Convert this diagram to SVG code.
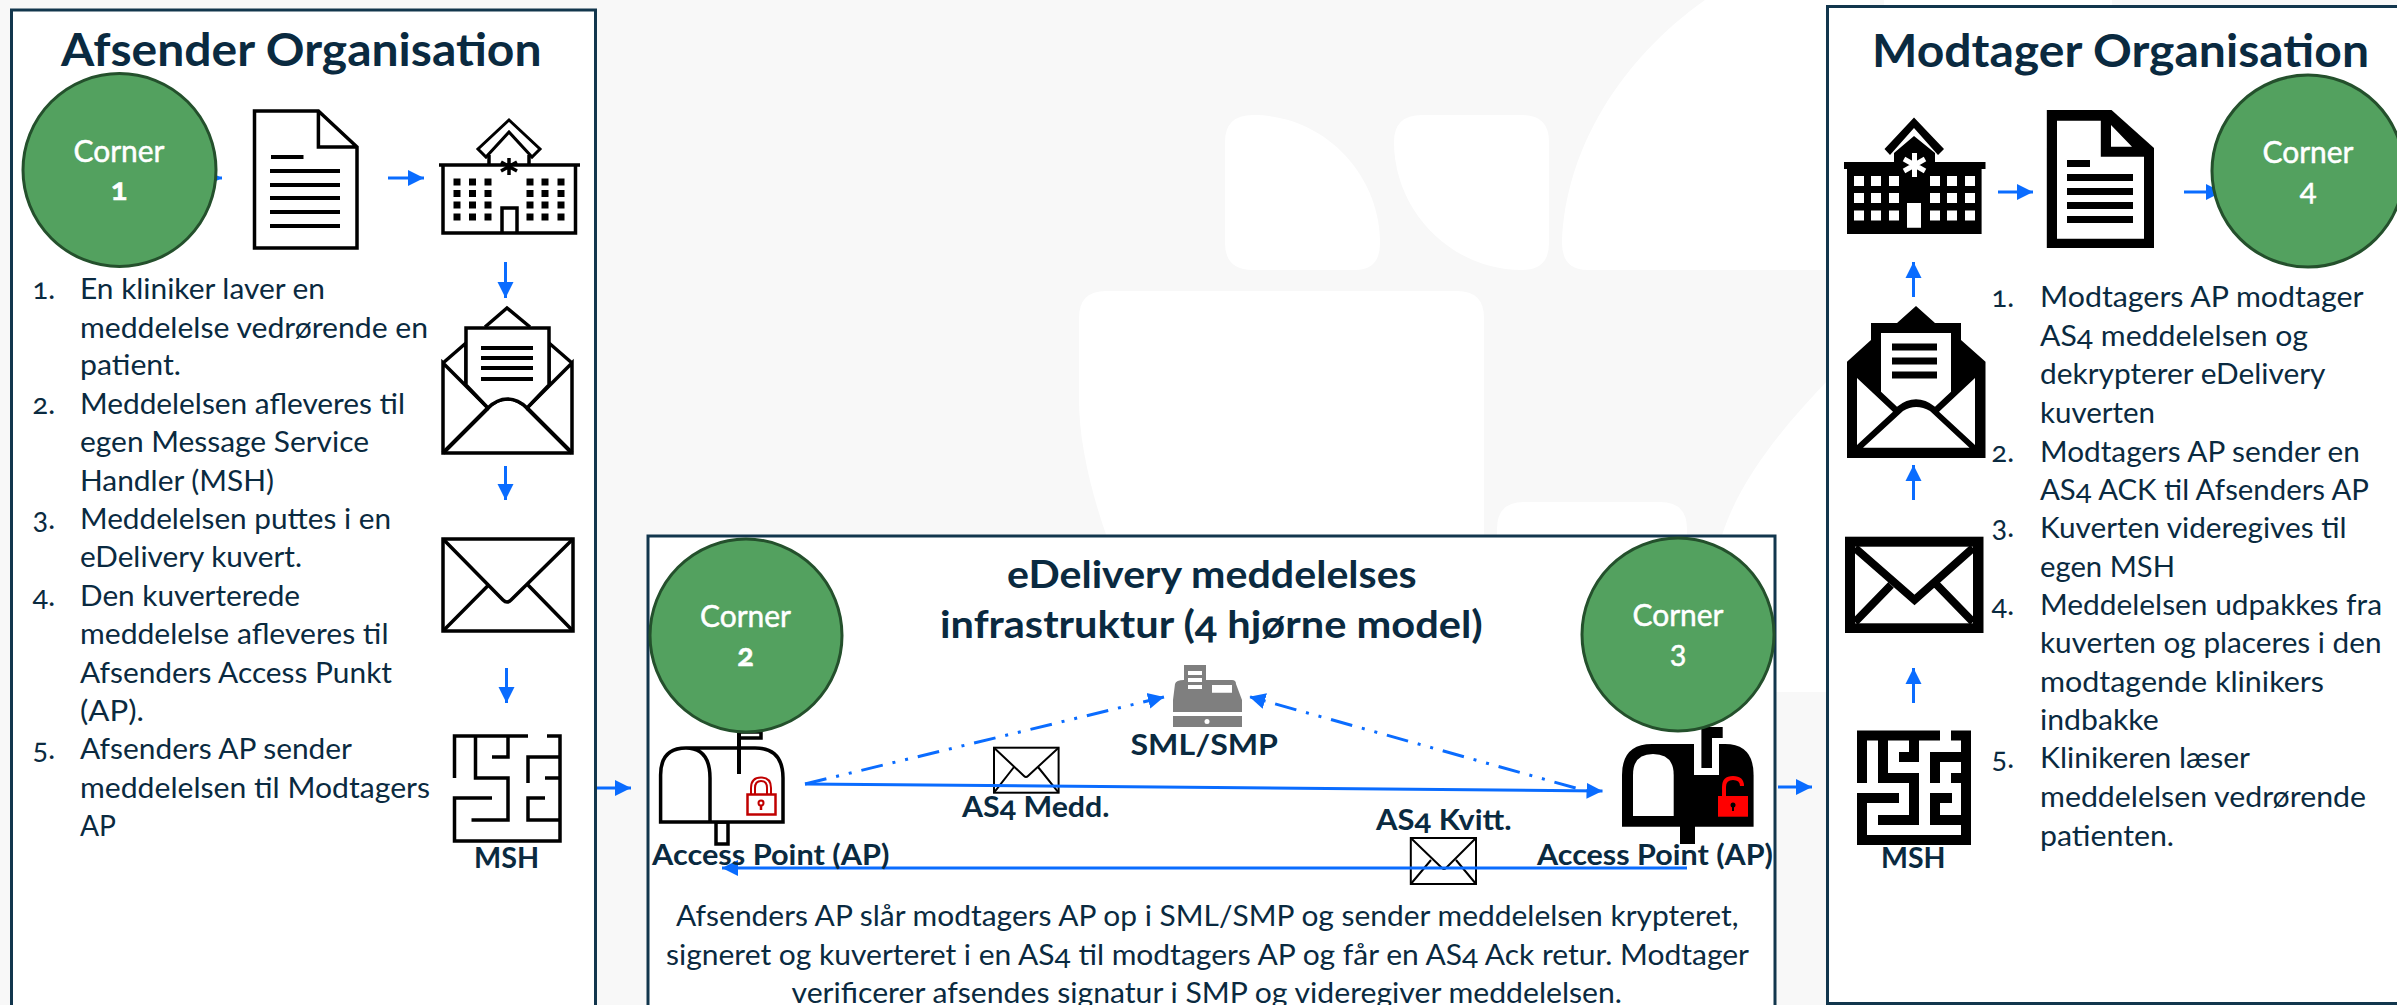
<svg xmlns="http://www.w3.org/2000/svg" width="2397" height="1005" viewBox="0 0 2397 1005">
<style>
text{font-family:"Lato","Open Sans","Liberation Sans",sans-serif;fill:#0a2a40;font-variant-numeric:oldstyle-nums;font-feature-settings:"onum"}
.b{font-size:29px}
.l{font-size:29px;font-weight:700}
.t{font-size:46px;font-weight:700}
.h{font-size:38px;font-weight:700}
.c{font-size:31px;fill:#fff;stroke:#fff;stroke-width:.5}
.n{font-size:29px}
.panel{fill:#fff;stroke:#12364d;stroke-width:3}
.corner{fill:#53a15f;stroke:#24502c;stroke-width:3}
.bg{fill:#fff}
.ln{fill:none;stroke:#000;stroke-width:4}
.th{fill:none;stroke:#000;stroke-width:10}
.ar{fill:none;stroke:#0a6cff;stroke-width:3;marker-end:url(#ah)}
.dd{stroke-dasharray:22 10 3 10 3 10}
</style>
<defs>
<marker id="ah" markerUnits="userSpaceOnUse" markerWidth="18" markerHeight="18" refX="16" refY="9" orient="auto"><path d="M0,1 L16,9 L0,17 Z" fill="#0a6cff"/></marker>
</defs>
<rect width="2397" height="1005" fill="#f8f8f8"/>
<g id="background">
<path class="bg" d="M1253,115 C1325,115 1380,175 1380,243 Q1380,270 1355,270 L1253,270 Q1225,270 1225,243 L1225,142 Q1225,115 1253,115 Z"/>
<path class="bg" d="M1422,115 L1522,115 Q1549,115 1549,142 L1549,243 Q1549,270 1522,270 C1450,270 1394,210 1394,142 Q1394,115 1422,115 Z"/>
<path class="bg" d="M1705,0 C1620,60 1565,150 1562,243 Q1562,270 1588,270 L1830,270 L1830,8 L1870,8 L1870,0 Z"/>
<rect class="bg" x="1884" y="0" width="228" height="8"/>
<path class="bg" d="M1106,291 L1457,291 Q1484,291 1484,318 L1484,540 L1108,540 C1090,490 1079,440 1079,400 L1079,318 Q1079,291 1106,291 Z"/>
<path class="bg" d="M1524,502 L1660,502 Q1687,502 1687,529 L1687,540 L1497,540 L1497,529 Q1497,502 1524,502 Z"/>
<path class="bg" d="M1830,378 C1780,430 1740,480 1722,535 L1700,600 L1700,692 L1840,692 Z"/>
</g>
<g id="panels">
<rect class="panel" x="11.5" y="10" width="584" height="1010"/>
<rect class="panel" x="648" y="536" width="1127" height="490"/>
<rect class="panel" x="1827.5" y="6.5" width="580" height="997"/>
</g>
<g id="connectors">
<path class="ar" d="M190,178 L222,178"/>
<path class="ar" d="M388,178 L424,178"/>
<path class="ar" d="M505.500,262 L505.500,298"/>
<path class="ar" d="M505.500,466 L505.500,500"/>
<path class="ar" d="M506.500,668 L506.500,703"/>
<path class="ar" d="M597,788 L631,788"/>
<path class="ar" d="M1778,787 L1812,787"/>
<path class="ar" d="M1998,192 L2033,192"/>
<path class="ar" d="M2184,192 L2222,192"/>
<path class="ar" d="M1913.500,297 L1913.500,262"/>
<path class="ar" d="M1913.500,500 L1913.500,465"/>
<path class="ar" d="M1913.500,703 L1913.500,668"/>
</g>
<g id="corner1"><ellipse class="corner" cx="119.500" cy="170" rx="96.500" ry="96.500"/><text class="c" x="73.500" y="162" textLength="91" lengthAdjust="spacingAndGlyphs">Corner</text><text class="c" x="119" y="200" text-anchor="middle" font-weight="700">1</text></g>
<g id="doc1">
<path d="M254.500,111 H318.400 L357,147 V248 H254.500 Z M318.400,111 V147 H357" fill="#fff" stroke="#000" stroke-width="3.500"/>
<path d="M271,157 H303.500 M270,171 H340 M270,185 H340 M270,198 H340 M270,212 H340 M270,226 H340" class="ln"/>
</g>
<g id="hospital1">
<path d="M509,120 L540,149 L532,157 L509,132 L486,157 L478,149 Z" fill="#fff" stroke="#000" stroke-width="3"/>
<path d="M489,165 V155 M529,165 V155 M439,165 H580 M443,165 V233 H575.500 V165 M502,233 V208 H517 V233" fill="none" stroke="#000" stroke-width="3.500"/>
<path d="M453.500,178.500h7v7h-7zM469,178.500h7v7h-7zM484.500,178.500h7v7h-7zM526.500,178.500h7v7h-7zM541.500,178.500h7v7h-7zM557.500,178.500h7v7h-7zM453.500,190h7v7h-7zM469,190h7v7h-7zM484.500,190h7v7h-7zM526.500,190h7v7h-7zM541.500,190h7v7h-7zM557.500,190h7v7h-7zM453.500,201.500h7v7h-7zM469,201.500h7v7h-7zM484.500,201.500h7v7h-7zM526.500,201.500h7v7h-7zM541.500,201.500h7v7h-7zM557.500,201.500h7v7h-7zM453.500,213.500h7v7h-7zM469,213.500h7v7h-7zM484.500,213.500h7v7h-7zM526.500,213.500h7v7h-7zM541.500,213.500h7v7h-7zM557.500,213.500h7v7h-7z"/>
<path d="M509,158 V175 M501,162 L517,171 M517,162 L501,171" fill="none" stroke="#000" stroke-width="3.500"/>
</g>
<g id="envelope-open1">
<path d="M485,327 L507,308 L530,327" fill="#fff" stroke="#000" stroke-width="3.500"/>
<path d="M443,363 L466,343 V383 M572,363 L549,343 V383 M443,363 V453 H572 V363 L527,408 C515,396 500,396 488,408 Z" fill="#fff" stroke="#000" stroke-width="3.500"/>
<path d="M466,328 H549 V385 L527,408 C515,396 500,396 488,408 L466,385 Z" fill="#fff" stroke="#000" stroke-width="3.500"/>
<path d="M443,453 L488,408 M572,453 L527,408" class="ln"/>
<path d="M481,348 H533 M481,358 H533 M481,368 H533 M481,379 H533" class="ln"/>
</g>
<g id="envelope1">
<path d="M443,539 H573 V631 H443 Z" fill="#fff" stroke="#000" stroke-width="3.500"/>
<path d="M443,539 L503,600 Q507,604 511,600 L573,539 M443,631 L488.600,585 M573,631 L528,585" fill="none" stroke="#000" stroke-width="3.500"/>
</g>
<g id="msh1">
<path d="M454.500,778 V736 H528 M547,736 H560 V841 H454.500 V798 H492 M475.500,736 V778 H508 V820 H471.500 M508,736 V757 H492 M528,783 V757 H560 M545,778 H560 M545,798 H528 V820 H560" fill="none" stroke="#000" stroke-width="3.500"/>
<text class="l" x="474" y="868" textLength="65" lengthAdjust="spacingAndGlyphs">MSH</text>
</g>
<g id="afsender-text">
<text class="t" x="61" y="66" textLength="480.500" lengthAdjust="spacingAndGlyphs">Afsender Organisation</text>
<text class="n" x="32.500" y="299">1.</text><text class="n" x="32.500" y="414">2.</text><text class="n" x="32.500" y="529">3.</text><text class="n" x="32.500" y="606">4.</text><text class="n" x="32.500" y="759">5.</text>
<text class="b" x="80" y="299" textLength="245" lengthAdjust="spacingAndGlyphs">En kliniker laver en</text>
<text class="b" x="80" y="337.500" textLength="348" lengthAdjust="spacingAndGlyphs">meddelelse vedrørende en</text>
<text class="b" x="80" y="375" textLength="101" lengthAdjust="spacingAndGlyphs">patient.</text>
<text class="b" x="80" y="414" textLength="325" lengthAdjust="spacingAndGlyphs">Meddelelsen afleveres til</text>
<text class="b" x="80" y="452" textLength="289" lengthAdjust="spacingAndGlyphs">egen Message Service</text>
<text class="b" x="80" y="491" textLength="194" lengthAdjust="spacingAndGlyphs">Handler (MSH)</text>
<text class="b" x="80" y="529" textLength="311" lengthAdjust="spacingAndGlyphs">Meddelelsen puttes i en</text>
<text class="b" x="80" y="567" textLength="222" lengthAdjust="spacingAndGlyphs">eDelivery kuvert.</text>
<text class="b" x="80" y="606" textLength="220" lengthAdjust="spacingAndGlyphs">Den kuverterede</text>
<text class="b" x="80" y="644" textLength="308.500" lengthAdjust="spacingAndGlyphs">meddelelse afleveres til</text>
<text class="b" x="80" y="682.500" textLength="312" lengthAdjust="spacingAndGlyphs">Afsenders Access Punkt</text>
<text class="b" x="80" y="720.500" textLength="64" lengthAdjust="spacingAndGlyphs">(AP).</text>
<text class="b" x="80" y="759" textLength="272" lengthAdjust="spacingAndGlyphs">Afsenders AP sender</text>
<text class="b" x="80" y="797.500" textLength="350" lengthAdjust="spacingAndGlyphs">meddelelsen til Modtagers</text>
<text class="b" x="80" y="835.500" textLength="36" lengthAdjust="spacingAndGlyphs">AP</text>
</g>
<g id="mailbox-left">
<path d="M739,774 V732 H761 V738 H739" fill="#fff" stroke="#000" stroke-width="3.500"/>
<path d="M716,822 H728 V844 H716 Z" fill="#fff" stroke="#000" stroke-width="3.500"/>
<path d="M660.600,822 V775 Q660.600,748 686,748 H755 Q783,748 783,778 V822 Z M686,748 Q710,748 710,778 V822" fill="#fff" stroke="#000" stroke-width="3.500"/>
<path d="M739,732 V774" class="ln"/>
<rect x="747.500" y="794.500" width="28" height="20" fill="none" stroke="#c00000" stroke-width="2.500"/>
<path d="M751,794 V788 Q751,777.500 761,777.500 Q771,777.500 771,788 V794 M755,794 V788 Q755,781 761,781 Q767,781 767,788 V794" fill="none" stroke="#c00000" stroke-width="2"/>
<circle cx="761" cy="803" r="2.500" fill="none" stroke="#c00000" stroke-width="2"/><path d="M761,806 V810" stroke="#c00000" stroke-width="2.500"/>
</g>
<g id="mailbox-right">
<path d="M1622,826.700 V775 Q1622,744 1652,744 H1725 Q1753.600,744 1753.600,775 V826.700 Z" fill="#000"/>
<rect x="1680" y="826" width="15" height="18" fill="#000"/>
<path d="M1633,816 V775 Q1633,754 1653,754 Q1673.700,754 1673.700,775 V816 Z" fill="#fff"/>
<rect x="1694" y="740" width="25" height="35" fill="#fff"/>
<path d="M1701.400,768 V727 H1722.700 V738 H1712 V768 Z" fill="#000"/>
<rect x="1718" y="796" width="30" height="20.700" fill="#f00"/>
<path d="M1724,796 V787 Q1724,778 1733,778 Q1742,778 1742,786" fill="none" stroke="#f00" stroke-width="4"/>
<circle cx="1733" cy="805" r="2.500"/><path d="M1733,806 V811" stroke="#000" stroke-width="2"/>
</g>
<g id="corner2"><ellipse class="corner" cx="746" cy="635.500" rx="96" ry="96.500"/><text class="c" x="700" y="627" textLength="91" lengthAdjust="spacingAndGlyphs">Corner</text><text class="c" x="745.500" y="665.500" text-anchor="middle" font-weight="700">2</text></g>
<g id="corner3"><ellipse class="corner" cx="1678" cy="634.500" rx="96" ry="96.500"/><text class="c" x="1632.500" y="625.500" textLength="91" lengthAdjust="spacingAndGlyphs">Corner</text><text class="c" x="1678" y="663" text-anchor="middle">3</text></g>
<g id="sml-smp">
<path d="M1184,665 H1206 V680 H1232 Q1236,680 1236,684 L1242,700 V712 H1173 V700 L1175,684 Q1176,680 1184,680 Z" fill="#7f7f7f"/>
<path d="M1212,685 H1232 V692.700 H1212 Z M1188,671 H1202 V675 H1188 Z M1188,678 H1202 V682 H1188 Z M1188,685 H1202 V689 H1188 Z" fill="#fff"/>
<rect x="1173" y="716" width="69" height="11" fill="#7f7f7f"/><circle cx="1207" cy="721.500" r="2.500" fill="#fff"/>
<text class="l" x="1130.500" y="755" textLength="147.500" lengthAdjust="spacingAndGlyphs">SML/SMP</text>
</g>
<g id="envelopes">
<rect x="994" y="747.700" width="64.600" height="45" fill="#fff" stroke="#000" stroke-width="2"/>
<path d="M994,747.700 L1024,776 Q1026,778 1028,776 L1058.600,747.700 M994,792.700 L1014,767 M1058.600,792.700 L1038,767" fill="none" stroke="#000" stroke-width="2"/>
<rect x="1410.800" y="838" width="65.200" height="46" fill="#fff" stroke="#000" stroke-width="2"/>
<path d="M1410.800,838 L1442,868 Q1444,870 1446,868 L1476,838 M1410.800,884 L1431,860 M1476,884 L1456,860" fill="none" stroke="#000" stroke-width="2"/>
</g>
<g id="mid-connectors">
<path class="ar dd" d="M805,784 L1164,697"/>
<path class="ar dd" d="M1575.600,788 L1249.400,696.700"/>
<path class="ar" d="M805,784 L1602.500,791"/>
<path class="ar" d="M1687,868 L722,868"/>
</g>
<g id="mid-text">
<text class="h" x="1007" y="587.500" textLength="409.700" lengthAdjust="spacingAndGlyphs">eDelivery meddelelses</text>
<text class="h" x="940" y="638" textLength="542.700" lengthAdjust="spacingAndGlyphs">infrastruktur (4 hjørne model)</text>
<text class="l" x="962" y="817" textLength="147.500" lengthAdjust="spacingAndGlyphs">AS4 Medd.</text>
<text class="l" x="1376" y="830" textLength="135.600" lengthAdjust="spacingAndGlyphs">AS4 Kvitt.</text>
<text class="l" x="652" y="865" textLength="237.500" lengthAdjust="spacingAndGlyphs">Access Point (AP)</text>
<text class="l" x="1537" y="865" textLength="236" lengthAdjust="spacingAndGlyphs">Access Point (AP)</text>
<text class="b" x="676" y="925.500" textLength="1062.600" lengthAdjust="spacingAndGlyphs">Afsenders AP slår modtagers AP op i SML/SMP og sender meddelelsen krypteret,</text>
<text class="b" x="666" y="965" textLength="1083" lengthAdjust="spacingAndGlyphs">signeret og kuverteret i en AS4 til modtagers AP og får en AS4 Ack retur. Modtager</text>
<text class="b" x="791.500" y="1003" textLength="830.500" lengthAdjust="spacingAndGlyphs">verificerer afsendes signatur i SMP og videregiver meddelelsen.</text>
</g>
<g id="hospital2">
<path d="M1914,117.500 L1944,149 L1938,155 L1914,128 L1890,155 L1884.500,149 Z"/>
<path d="M1844,162 H1894 V153 L1914,136 L1935,153 V162 H1985.500 V169 H1981.600 V234 H1847 V169 H1844 Z"/>
<path fill="#fff" d="M1854,176h10v10h-10zM1871,176h10v10h-10zM1889,176h10v10h-10zM1930,176h10v10h-10zM1947,176h10v10h-10zM1965,176h10v10h-10zM1854,193h10v10h-10zM1871,193h10v10h-10zM1889,193h10v10h-10zM1930,193h10v10h-10zM1947,193h10v10h-10zM1965,193h10v10h-10zM1854,210.500h10v10h-10zM1871,210.500h10v10h-10zM1889,210.500h10v10h-10zM1930,210.500h10v10h-10zM1947,210.500h10v10h-10zM1965,210.500h10v10h-10zM1907,203h14v24.700h-14z"/>
<path d="M1914.500,153 V177 M1904,159 L1925,171 M1925,159 L1904,171" stroke="#fff" stroke-width="5" fill="none"/>
</g>
<g id="doc2">
<path d="M2046.800,110 H2111.500 L2154,148 V248 H2046.800 Z"/>
<path fill="#fff" d="M2057,120.700 H2100.800 V156.700 H2144 V238.700 H2057 Z M2111,125 V146.700 H2132 Z"/>
<path d="M2067,160h23v7h-23zM2067,174h66v7h-66zM2067,188h66v7h-66zM2067,202h66v7h-66zM2067,216h66v7h-66z"/>
</g>
<g id="envelope-open2">
<path d="M1847,361.700 L1871,340 V323 H1897 L1916,306 L1935,323 H1961 V340 L1985.500,361.700 V458 H1847 Z"/>
<path fill="#fff" d="M1881,333 H1951 V391.700 L1935,406.700 Q1916,392 1897,406.700 L1881,391.700 Z M1857,378 L1893,411.700 L1857,445 Z M1975,378 L1939,411.700 L1975,445 Z M1863,447.700 L1903,411 Q1916,403 1930,411 L1969.500,447.700 Z"/>
<path d="M1892,343.500h45v7h-45zM1892,357.500h45v7h-45zM1892,371.500h45v7h-45z"/>
</g>
<g id="envelope2">
<rect x="1845" y="536.700" width="138.500" height="96.300"/>
<rect x="1855" y="546.700" width="118" height="76.600" fill="#fff"/>
<path d="M1855,548 L1914.500,600 L1973,548 M1855,622 L1891,585 M1973,622 L1937,585" stroke="#000" stroke-width="8" fill="none"/>
</g>
<g id="msh2">
<path class="th" d="M1862,783 V735.500 H1940 M1951,735.500 H1966 V840 H1862 V798 H1899 M1883,735.500 V778 H1914 V820 H1878 M1914,735.500 V757 H1899 M1935,783 V757 H1966 M1951,778 H1966 M1952,798 H1935 V820 H1966"/>
<text class="l" x="1881" y="868" textLength="64.500" lengthAdjust="spacingAndGlyphs">MSH</text>
</g>
<g id="corner4"><ellipse class="corner" cx="2308" cy="171" rx="96" ry="96"/><text class="c" x="2262.500" y="162.500" textLength="91" lengthAdjust="spacingAndGlyphs">Corner</text><text class="c" x="2308" y="200" text-anchor="middle">4</text></g>
<g id="modtager-text">
<text class="t" x="1872" y="66.500" textLength="497" lengthAdjust="spacingAndGlyphs">Modtager Organisation</text>
<text class="n" x="1991.500" y="307">1.</text><text class="n" x="1991.500" y="461.500">2.</text><text class="n" x="1991.500" y="537">3.</text><text class="n" x="1991.500" y="615">4.</text><text class="n" x="1991.500" y="768">5.</text>
<text class="b" x="2040" y="307" textLength="323.600" lengthAdjust="spacingAndGlyphs">Modtagers AP modtager</text>
<text class="b" x="2040" y="345.500" textLength="268" lengthAdjust="spacingAndGlyphs">AS4 meddelelsen og</text>
<text class="b" x="2040" y="384" textLength="285.500" lengthAdjust="spacingAndGlyphs">dekrypterer eDelivery</text>
<text class="b" x="2040" y="422.500" textLength="115" lengthAdjust="spacingAndGlyphs">kuverten</text>
<text class="b" x="2040" y="461.500" textLength="319.800" lengthAdjust="spacingAndGlyphs">Modtagers AP sender en</text>
<text class="b" x="2040" y="500" textLength="329" lengthAdjust="spacingAndGlyphs">AS4 ACK til Afsenders AP</text>
<text class="b" x="2040" y="537.500" textLength="306.500" lengthAdjust="spacingAndGlyphs">Kuverten videregives til</text>
<text class="b" x="2040" y="576.500" textLength="135" lengthAdjust="spacingAndGlyphs">egen MSH</text>
<text class="b" x="2040" y="615" textLength="342" lengthAdjust="spacingAndGlyphs">Meddelelsen udpakkes fra</text>
<text class="b" x="2040" y="653" textLength="341.500" lengthAdjust="spacingAndGlyphs">kuverten og placeres i den</text>
<text class="b" x="2040" y="691.500" textLength="284" lengthAdjust="spacingAndGlyphs">modtagende klinikers</text>
<text class="b" x="2040" y="730" textLength="118.700" lengthAdjust="spacingAndGlyphs">indbakke</text>
<text class="b" x="2040" y="768" textLength="210" lengthAdjust="spacingAndGlyphs">Klinikeren læser</text>
<text class="b" x="2040" y="806.500" textLength="326" lengthAdjust="spacingAndGlyphs">meddelelsen vedrørende</text>
<text class="b" x="2040" y="845.500" textLength="134" lengthAdjust="spacingAndGlyphs">patienten.</text>
</g>
</svg>
